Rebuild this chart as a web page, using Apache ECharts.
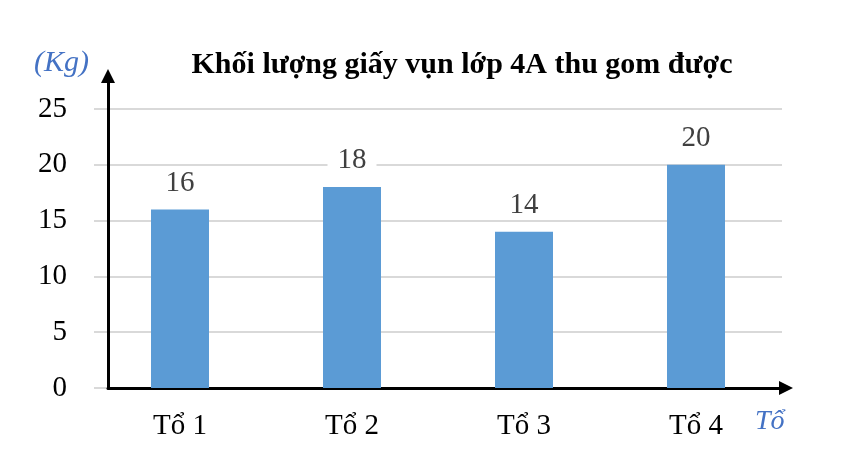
<!DOCTYPE html>
<html>
<head>
<meta charset="utf-8">
<script src="https://cdn.jsdelivr.net/npm/echarts@6/dist/echarts.min.js"></script>
<style>html,body{margin:0;padding:0;background:#fff}#c{width:850px;height:450px}</style>
</head>
<body>
<div id="c"></div>
<script>
const categories = ['Tổ 1', 'Tổ 2', 'Tổ 3', 'Tổ 4'];
const values = [16, 18, 14, 20];
const yTicks = [0, 5, 10, 15, 20, 25];

const serif = '"Liberation Serif", "Times New Roman", serif';
const chart = echarts.init(document.getElementById('c'));
chart.setOption({
  animation: false,
  title: {
    text: 'Khối lượng giấy vụn lớp 4A thu gom được',
    left: 457, top: 45, textAlign: 'center',
    textStyle: { fontFamily: serif, fontWeight: 'bold', fontSize: 30, color: '#000' }
  },
  graphic: [
    { type: 'text', left: 34, top: 48, style: { text: '(Kg)', font: 'italic 30px ' + serif, fill: '#4472c4' } },
    { type: 'text', left: 755, top: 408, style: { text: 'Tổ', font: 'italic 28px ' + serif, fill: '#4472c4' } }
  ],
  grid: [
    { left: 94, right: 68, top: 109, bottom: 62 },
    { left: 108, right: 64, top: 76, bottom: 62 }
  ],
  xAxis: [
    {
      type: 'category', data: categories, gridIndex: 0,
      axisLine: { show: false }, axisTick: { show: false },
      axisLabel: { fontFamily: serif, fontSize: 29, color: '#000', margin: 24 }
    },
    {
      type: 'value', gridIndex: 1, min: 0, max: 1,
      axisLine: { show: true, lineStyle: { color: '#000', width: 3 }, symbol: ['none', 'triangle'], symbolSize: [14, 14] },
      axisTick: { show: false }, axisLabel: { show: false }, splitLine: { show: false }
    }
  ],
  yAxis: [
    {
      type: 'value', gridIndex: 0, min: yTicks[0], max: yTicks[yTicks.length - 1], interval: 5,
      axisLine: { show: false }, axisTick: { show: false },
      axisLabel: { fontFamily: serif, fontSize: 29, color: '#000', margin: 27 },
      splitLine: { lineStyle: { color: '#d9d9d9', width: 2 } }
    },
    {
      type: 'value', gridIndex: 1, min: 0, max: 1,
      axisLine: { show: true, lineStyle: { color: '#000', width: 3 }, symbol: ['none', 'triangle'], symbolSize: [14, 14] },
      axisTick: { show: false }, axisLabel: { show: false }, splitLine: { show: false }
    }
  ],
  series: [{
    type: 'bar', xAxisIndex: 0, yAxisIndex: 0, data: values, barWidth: 58,
    itemStyle: { color: '#5b9bd5' },
    z: 1,
    label: {
      show: true, position: 'top', distance: 12,
      fontFamily: serif, fontSize: 29, color: '#404040',
      backgroundColor: '#fff', padding: [0, 10]
    }
  }]
});
</script>
</body>
</html>
